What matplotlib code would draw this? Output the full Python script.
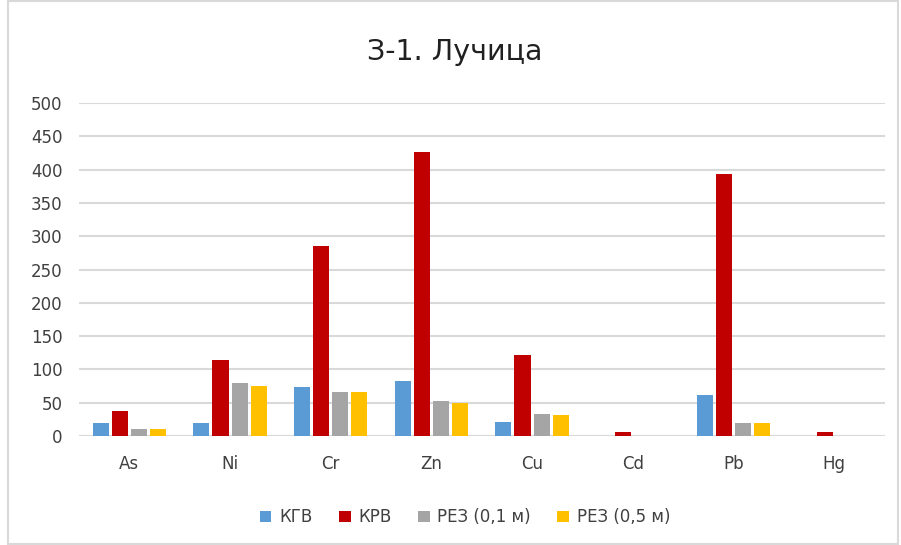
import matplotlib.pyplot as plt
from matplotlib.patches import Rectangle
import numpy as np

plt.rcParams['font.family'] = ['DejaVu Sans']

elements = ['As', 'Ni', 'Cr', 'Zn', 'Cu', 'Cd', 'Pb', 'Hg']
series_names = ['КГВ', 'КРВ', 'РЕЗ (0,1 м)', 'РЕЗ (0,5 м)']
kgv = [20, 20, 74, 82, 21, 0, 62, 0]
krv = [38, 114, 286, 427, 121, 6, 393, 6]
rez01 = [11, 80, 66, 53, 33, 0, 20, 0]
rez05 = [11, 75, 66, 49, 32, 0, 20, 0]
colors = ['#5b9bd5', '#c00000', '#a5a5a5', '#ffc000']

fig = plt.figure(figsize=(9.01, 5.45), dpi=100)
ax = fig.add_axes([0.0877, 0.2, 0.894, 0.611])

x = np.arange(len(elements))
w = 0.16
step = 0.19
for i, vals in enumerate([kgv, krv, rez01, rez05]):
    ax.bar(x + (i - 1.5) * step, vals, w, color=colors[i], label=series_names[i], zorder=3)

ax.set_xlim(-0.5, len(elements) - 0.5)
ax.set_ylim(0, 500)
ax.set_yticks(range(0, 501, 50))
ax.set_xticks(x)
ax.set_xticklabels(elements)
ax.yaxis.grid(True, color='#d9d9d9', linewidth=1.5, zorder=0)
ax.tick_params(length=0, labelsize=12, colors='#404040')
ax.tick_params(axis='y', pad=12)
ax.tick_params(axis='x', pad=14)
for s in ax.spines.values():
    s.set_visible(False)
ax.axhline(0, color='#d9d9d9', linewidth=1.5, zorder=2)

fig.text(0.505, 0.905, 'З-1. Лучица', ha='center', va='center', fontsize=20.5, color='#202020')

leg = fig.legend(loc='center', bbox_to_anchor=(0.516, 0.051), ncol=4, frameon=False,
                 fontsize=12, handlelength=0.7, handleheight=0.7,
                 handletextpad=0.45, columnspacing=1.6)
for t in leg.get_texts():
    t.set_color('#404040')

fig.patches.append(Rectangle((0.009, 0.002), 0.988, 0.996, transform=fig.transFigure,
                             fill=False, edgecolor='#d9d9d9', linewidth=1.5))

fig.savefig('out.png', dpi=100)
